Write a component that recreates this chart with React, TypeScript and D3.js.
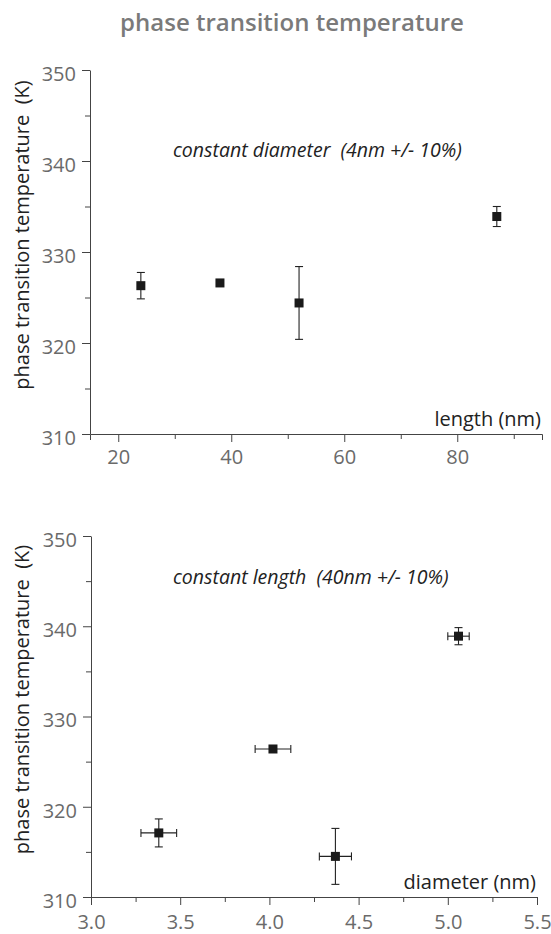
import React, { useEffect, useRef } from "react";
import * as d3 from "d3";

const lengthX = [24, 38, 52, 87];
const lengthT = [326.3, 326.6, 324.4, 333.9];
const lengthTErr = [1.45, 0, 4.0, 1.1];

const diamX = [3.38, 4.02, 4.37, 5.06];
const diamXErr = [0.1, 0.1, 0.09, 0.06];
const diamT = [317.1, 326.4, 314.5, 338.9];
const diamTErr = [1.55, 0, 3.1, 0.95];

const yTicksMajor = [310, 320, 330, 340, 350];
const yTicksMinor = [315, 325, 335, 345];
const lenTicksMajor = [20, 40, 60, 80];
const lenTicksMinor = [30, 50, 70, 90];
const diaTicksMajor = [3.0, 3.5, 4.0, 4.5, 5.0, 5.5];
const diaTicksMinor = [3.25, 3.75, 4.25, 4.75, 5.25];

const title = "phase transition temperature";
const yTitle = "phase transition temperature  (K)";

const FONT = "'Open Sans', 'DejaVu Sans', sans-serif";

type PanelCfg = {
  top: number;
  bottom: number;
  left: number;
  right: number;
  noteY: number;
  xLabelOffset: number;
  xDomain: [number, number];
  xMajor: number[];
  xMinor: number[];
  xFmt: (v: number) => string;
  xLabel: string;
  note: string;
  xs: number[];
  xErr: number[] | null;
  ys: number[];
  yErr: number[];
};

function drawPanel(svg: d3.Selection<SVGSVGElement, unknown, null, undefined>, c: PanelCfg) {
  const g = svg.append("g");
  const x = d3.scaleLinear().domain(c.xDomain).range([c.left, c.right]);
  const y = d3.scaleLinear().domain([310, 350]).range([c.bottom, c.top]);
  const axisColor = "#444";
  const labelColor = "#6a6a6a";

  // y axis
  const ya = g.append("g").attr("transform", `translate(${c.left},0)`);
  ya.call(d3.axisLeft(y).tickValues(yTicksMajor).tickSize(8).tickSizeOuter(0).tickFormat(d3.format("d")) as any);
  ya.select(".domain").attr("stroke", axisColor);
  ya.selectAll(".tick line").attr("stroke", axisColor);
  ya.selectAll(".tick text")
    .attr("fill", labelColor)
    .attr("font-size", 20)
    .attr("font-family", FONT)
    .attr("x", -14)
    .attr("dy", "0.52em");
  const yam = g.append("g").attr("transform", `translate(${c.left},0)`);
  yam.call(d3.axisLeft(y).tickValues(yTicksMinor).tickSize(5).tickSizeOuter(0).tickFormat(() => "") as any);
  yam.select(".domain").remove();
  yam.selectAll(".tick line").attr("stroke", axisColor);

  // x axis
  const xa = g.append("g").attr("transform", `translate(0,${c.bottom})`);
  xa.call(d3.axisBottom(x).tickValues(c.xMajor).tickSize(8).tickSizeOuter(6).tickFormat((d: any) => c.xFmt(d)) as any);
  xa.select(".domain").attr("stroke", axisColor);
  xa.selectAll(".tick line").attr("stroke", axisColor);
  xa.selectAll(".tick text")
    .attr("fill", labelColor)
    .attr("font-size", 20)
    .attr("font-family", FONT)
    .attr("y", c.xLabelOffset);
  const xam = g.append("g").attr("transform", `translate(0,${c.bottom})`);
  xam.call(d3.axisBottom(x).tickValues(c.xMinor).tickSize(5).tickSizeOuter(0).tickFormat(() => "") as any);
  xam.select(".domain").remove();
  xam.selectAll(".tick line").attr("stroke", axisColor);

  // y title
  g.append("text")
    .attr("transform", `translate(29,${(c.top + c.bottom) / 2 - 17}) rotate(-90)`)
    .attr("text-anchor", "middle")
    .attr("font-family", FONT)
    .attr("font-size", 20)
    .attr("fill", "#222")
    .attr("xml:space", "preserve")
    .style("white-space", "pre")
    .text(yTitle);

  // x label
  g.append("text")
    .attr("x", c.right - 1)
    .attr("y", c.bottom - 8)
    .attr("text-anchor", "end")
    .attr("font-family", FONT)
    .attr("font-size", 20)
    .attr("fill", "#222")
    .text(c.xLabel);

  // note
  g.append("text")
    .attr("x", 173)
    .attr("y", c.noteY)
    .attr("font-family", FONT)
    .attr("font-style", "italic")
    .attr("font-size", 19.5)
    .attr("fill", "#222")
    .attr("xml:space", "preserve")
    .style("white-space", "pre")
    .text(c.note);

  const cap = 4;
  const pts = c.xs.map((v, i) => ({ x: v, y: c.ys[i], ye: c.yErr[i], xe: c.xErr ? c.xErr[i] : 0 }));
  const eg = g.append("g").attr("stroke", "#222").attr("stroke-width", 1.1).attr("fill", "none");
  pts.forEach((p) => {
    if (p.ye > 0) {
      eg.append("line").attr("x1", x(p.x)).attr("x2", x(p.x)).attr("y1", y(p.y - p.ye)).attr("y2", y(p.y + p.ye));
      eg.append("line").attr("x1", x(p.x) - cap).attr("x2", x(p.x) + cap).attr("y1", y(p.y - p.ye)).attr("y2", y(p.y - p.ye));
      eg.append("line").attr("x1", x(p.x) - cap).attr("x2", x(p.x) + cap).attr("y1", y(p.y + p.ye)).attr("y2", y(p.y + p.ye));
    }
    if (p.xe > 0) {
      eg.append("line").attr("x1", x(p.x - p.xe)).attr("x2", x(p.x + p.xe)).attr("y1", y(p.y)).attr("y2", y(p.y));
      eg.append("line").attr("x1", x(p.x - p.xe)).attr("x2", x(p.x - p.xe)).attr("y1", y(p.y) - cap).attr("y2", y(p.y) + cap);
      eg.append("line").attr("x1", x(p.x + p.xe)).attr("x2", x(p.x + p.xe)).attr("y1", y(p.y) - cap).attr("y2", y(p.y) + cap);
    }
  });
  const s = 9;
  g.append("g")
    .selectAll("rect")
    .data(pts)
    .join("rect")
    .attr("x", (p) => x(p.x) - s / 2)
    .attr("y", (p) => y(p.y) - s / 2)
    .attr("width", s)
    .attr("height", s)
    .attr("fill", "#1a1a1a");
}

export default function App() {
  const ref = useRef<SVGSVGElement>(null);
  useEffect(() => {
    if (!ref.current) return;
    const svg = d3.select(ref.current);
    svg.selectAll("*").remove();
    svg
      .append("text")
      .attr("x", 292)
      .attr("y", 31)
      .attr("text-anchor", "middle")
      .attr("font-family", FONT)
      .attr("font-weight", 600)
      .attr("font-size", 24)
      .attr("fill", "#7a7a7a")
      .text(title);

    drawPanel(svg, {
      top: 70,
      bottom: 434,
      left: 90,
      right: 542,
      noteY: 157,
      xLabelOffset: 16,
      xDomain: [15, 95],
      xMajor: lenTicksMajor,
      xMinor: lenTicksMinor,
      xFmt: (v) => d3.format("d")(v),
      xLabel: "length (nm)",
      note: "constant diameter  (4nm +/- 10%)",
      xs: lengthX,
      xErr: null,
      ys: lengthT,
      yErr: lengthTErr,
    });

    drawPanel(svg, {
      top: 536,
      bottom: 897,
      left: 91,
      right: 537,
      noteY: 584,
      xLabelOffset: 18,
      xDomain: [3.0, 5.5],
      xMajor: diaTicksMajor,
      xMinor: diaTicksMinor,
      xFmt: (v) => d3.format(".1f")(v),
      xLabel: "diameter (nm)",
      note: "constant length  (40nm +/- 10%)",
      xs: diamX,
      xErr: diamXErr,
      ys: diamT,
      yErr: diamTErr,
    });
  }, []);
  return (
    <svg
      ref={ref}
      width={551}
      height={934}
      style={{ position: "absolute", left: 0, top: 0, background: "#fff" }}
    />
  );
}
